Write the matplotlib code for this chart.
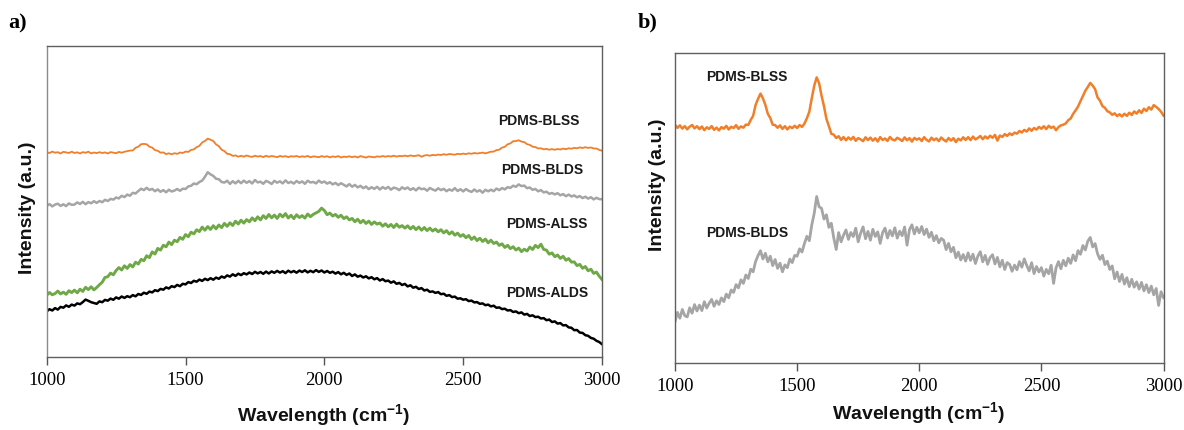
"""
Raman spectra of the PDMS composites, two panels:
a) all four samples stacked, b) the two BL samples at higher gain.
Intensities are in arbitrary units, read off the published figure.
"""

import matplotlib

matplotlib.use("Agg")   # headless backend
import matplotlib.pyplot as plt
import numpy as np

plt.rcParams["font.family"] = ["Liberation Sans", "DejaVu Sans"]
plt.rcParams["mathtext.default"] = "regular"

# wavenumber grid (cm^-1), one point every 10 cm^-1; one row below = 100 cm^-1
wavenumber = np.arange(1000, 3001, 10)

# ---- panel a -----------------------------------------------------------
blss_a = [
    205.0, 203.9, 205.4, 204.3, 204.8, 203.5, 205.2, 204.6, 204.0, 205.3,
    204.0, 204.7, 203.5, 204.9, 204.2, 205.3, 203.6, 204.5, 203.9, 204.8,
    204.0, 204.6, 203.5, 204.9, 204.4, 203.8, 205.1, 204.3, 205.2, 205.9,
    206.4, 206.6, 209.2, 210.3, 212.8, 213.1, 212.7, 210.3, 209.4, 206.9,
    206.2, 204.3, 204.6, 202.9, 203.7, 202.7, 203.8, 203.1, 204.5, 204.0,
    205.4, 205.1, 207.1, 207.6, 209.8, 211.2, 214.5, 216.0, 218.4, 217.3,
    216.0, 212.6, 210.8, 207.3, 205.9, 203.2, 202.8, 201.1, 201.6, 200.3,
    201.2, 200.3, 201.5, 200.6, 200.1, 201.3, 200.4, 201.0, 199.9, 201.2,
    200.2, 201.0, 200.5, 199.8, 201.1, 200.3, 200.9, 199.9, 200.8, 200.4,
    201.0, 200.0, 200.7, 200.2, 201.1, 199.7, 200.6, 200.3, 199.8, 200.9,
    200.1, 200.8, 199.6, 200.6, 200.0, 200.9, 199.5, 200.4, 200.0, 200.7,
    199.8, 200.6, 199.5, 200.9, 200.2, 199.4, 200.5, 200.1, 199.7, 200.6,
    200.2, 201.0, 200.3, 200.9, 200.5, 201.3, 200.4, 201.1, 200.8, 201.4,
    200.7, 201.6, 200.9, 201.2, 201.8, 200.2, 201.5, 201.9, 201.3, 202.1,
    201.7, 202.4, 202.0, 202.8, 202.2, 203.0, 202.6, 202.3, 203.2, 202.8,
    203.4, 202.9, 203.7, 203.2, 204.0, 203.5, 203.9, 204.4, 203.6, 204.5,
    205.3, 205.4, 206.9, 207.3, 209.4, 210.2, 212.7, 213.6, 215.8, 215.9,
    216.8, 215.4, 214.9, 212.8, 212.1, 210.3, 209.9, 208.6, 208.7, 207.7,
    208.1, 207.3, 207.9, 207.2, 208.0, 207.5, 208.4, 207.8, 208.7, 208.3,
    209.1, 208.7, 209.6, 209.0, 209.8, 209.1, 209.5, 208.5, 208.5, 207.1,
    206.3,
]
blds_a = [
    151.0, 152.9, 150.6, 152.4, 153.3, 151.1, 152.7, 150.9, 153.6, 152.2,
    152.4, 154.6, 153.0, 155.2, 152.8, 154.9, 153.7, 155.8, 154.1, 156.0,
    154.8, 157.2, 156.0, 158.1, 157.4, 159.5, 158.6, 161.2, 159.9, 162.4,
    161.3, 164.2, 163.5, 166.0, 168.3, 166.9, 169.2, 167.0, 168.1, 165.8,
    167.6, 165.2, 166.9, 164.7, 167.3, 165.5, 166.4, 168.0, 166.2, 168.3,
    168.0, 170.6, 171.2, 173.5, 172.8, 175.0, 176.4, 180.2, 184.8, 182.6,
    181.1, 178.2, 177.8, 175.0, 174.4, 176.3, 173.1, 175.8, 173.6, 176.2,
    173.8, 176.4, 174.2, 175.9, 173.5, 177.0, 174.6, 175.3, 173.2, 176.1,
    174.9, 173.0, 176.2, 174.3, 175.7, 173.6, 176.6, 174.0, 175.2, 173.4,
    176.0, 174.1, 175.6, 173.2, 176.3, 174.5, 175.1, 173.6, 176.4, 174.3,
    175.5, 173.4, 174.8, 172.6, 174.1, 171.9, 173.8, 172.2, 170.6, 172.9,
    170.3, 172.1, 169.6, 171.2, 168.8, 170.5, 167.9, 169.8, 168.1, 170.2,
    167.5, 169.9, 168.2, 170.1, 167.3, 169.4, 168.6, 166.9, 169.7, 168.0,
    169.5, 167.1, 168.8, 166.6, 169.3, 167.8, 168.4, 166.3, 169.0, 167.5,
    166.4, 168.7, 166.9, 168.2, 165.8, 167.6, 166.3, 168.9, 166.0, 167.8,
    165.6, 167.9, 166.2, 165.1, 167.5, 165.4, 166.8, 164.3, 167.2, 165.7,
    167.3, 165.8, 168.4, 166.9, 168.9, 167.6, 169.8, 169.1, 171.3, 170.2,
    172.6, 170.9, 171.4, 168.8, 169.5, 167.2, 168.0, 165.7, 166.9, 164.6,
    165.3, 163.2, 164.0, 162.6, 163.8, 161.7, 162.9, 160.8, 162.4, 160.5,
    161.6, 159.7, 160.9, 158.9, 160.3, 158.4, 159.8, 157.6, 159.2, 157.9,
    157.8,
]
alss_a = [
    61.8, 64.5, 62.2, 63.4, 65.9, 63.1, 64.8, 62.7, 66.3, 64.4,
    66.9, 64.2, 67.8, 65.6, 69.7, 67.4, 70.2, 67.1, 69.5, 72.3,
    74.8, 79.6, 80.3, 83.9, 82.2, 86.5, 89.4, 87.0, 91.2, 88.6,
    92.4, 90.1, 94.8, 93.0, 97.6, 96.3, 101.2, 99.4, 105.1, 103.0,
    108.6, 106.9, 111.8, 110.2, 114.9, 112.4, 116.8, 115.3, 119.6, 117.7,
    122.4, 120.3, 124.8, 123.1, 127.2, 125.4, 129.9, 126.8, 130.4, 127.6,
    131.3, 128.2, 132.0, 129.4, 133.6, 130.7, 134.2, 131.5, 135.8, 133.0,
    136.8, 133.9, 137.4, 135.2, 139.1, 136.3, 140.2, 137.1, 141.3, 138.6,
    142.5, 139.2, 141.9, 138.6, 142.8, 140.1, 143.4, 139.0, 141.7, 138.4,
    142.2, 139.5, 141.4, 138.9, 143.0, 140.3, 142.6, 144.1, 145.6, 148.9,
    146.5, 142.3, 143.9, 141.0, 142.6, 139.7, 141.8, 138.4, 140.2, 137.1,
    138.6, 135.3, 137.8, 134.2, 136.7, 133.5, 135.9, 132.6, 135.1, 132.9,
    134.0, 130.8, 133.2, 130.2, 132.6, 129.5, 132.9, 129.8, 131.4, 128.9,
    131.2, 128.1, 130.6, 127.4, 130.0, 126.8, 129.5, 126.4, 128.9, 126.0,
    128.0, 125.2, 127.3, 124.1, 126.4, 122.9, 125.2, 121.8, 123.9, 120.6,
    122.4, 119.3, 121.5, 117.6, 120.0, 116.4, 118.8, 115.5, 117.9, 114.2,
    116.8, 113.5, 114.9, 111.6, 113.2, 109.5, 111.7, 108.4, 110.3, 107.0,
    108.9, 105.4, 107.8, 106.0, 109.9, 107.5, 111.6, 109.4, 112.8, 107.6,
    106.9, 102.8, 104.1, 100.3, 102.0, 98.6, 100.7, 96.8, 98.4, 94.9,
    95.1, 91.4, 92.6, 88.7, 90.5, 86.2, 87.8, 83.6, 84.9, 80.8,
    77.5,
]
alds_a = [
    45.6, 47.8, 46.5, 48.9, 47.4, 50.1, 49.3, 51.6, 50.2, 52.4,
    51.4, 53.6, 52.8, 54.9, 57.4, 56.2, 54.8, 54.0, 53.2, 55.6,
    54.8, 57.1, 56.3, 58.4, 57.2, 59.6, 58.3, 60.5, 59.1, 60.8,
    59.8, 61.9, 60.7, 63.0, 62.1, 64.3, 63.2, 65.4, 64.6, 66.8,
    65.9, 68.1, 67.3, 69.6, 68.5, 70.8, 69.9, 72.1, 70.8, 73.2,
    72.6, 74.9, 74.0, 76.2, 75.3, 77.4, 76.1, 78.2, 76.9, 78.8,
    77.3, 79.4, 78.2, 80.5, 79.3, 81.6, 80.4, 82.7, 81.1, 83.3,
    81.9, 83.8, 82.6, 84.5, 83.0, 85.2, 83.6, 85.0, 83.2, 85.4,
    83.5, 85.6, 84.2, 86.1, 84.4, 85.8, 83.9, 86.3, 84.7, 86.0,
    84.3, 86.4, 85.0, 86.7, 84.6, 86.2, 84.8, 86.9, 85.1, 86.5,
    84.5, 86.0, 84.2, 85.3, 83.4, 84.9, 82.7, 84.2, 82.1, 83.5,
    81.0, 82.6, 80.3, 81.4, 79.5, 80.7, 78.6, 79.8, 77.7, 78.9,
    76.5, 77.9, 75.8, 76.4, 74.3, 75.6, 73.2, 74.1, 72.0, 73.1,
    70.6, 71.7, 69.3, 70.2, 68.0, 68.9, 66.5, 67.3, 65.1, 65.6,
    64.1, 64.9, 62.8, 63.3, 61.2, 61.9, 59.9, 60.4, 58.3, 58.7,
    57.3, 57.8, 55.9, 56.4, 54.6, 54.9, 53.2, 53.6, 51.8, 52.4,
    50.6, 51.3, 49.2, 49.6, 47.9, 48.3, 46.5, 46.9, 45.0, 45.6,
    43.8, 44.6, 42.4, 43.1, 41.0, 41.7, 39.9, 40.3, 38.5, 38.9,
    36.8, 37.4, 35.0, 35.6, 33.4, 33.9, 31.6, 31.9, 29.6, 29.2,
    26.8, 27.0, 24.4, 24.1, 21.8, 21.2, 19.1, 18.3, 16.2, 15.0,
    12.8,
]

# ---- panel b -----------------------------------------------------------
blss_b = [
    238.2, 235.1, 237.6, 234.4, 236.9, 233.7, 236.3, 238.0, 234.6, 236.8,
    233.9, 236.5, 232.8, 235.7, 234.1, 236.9, 233.2, 235.4, 232.6, 235.9,
    234.3, 237.1, 233.5, 236.2, 235.0, 237.8, 234.2, 236.6, 235.3, 238.4,
    238.0, 243.1, 247.2, 258.0, 264.1, 269.4, 264.6, 258.1, 249.2, 245.0,
    238.3, 237.9, 235.2, 237.6, 234.1, 236.8, 233.6, 236.4, 234.9, 237.2,
    235.0, 237.9, 236.1, 239.4, 244.8, 251.3, 264.7, 277.2, 285.6, 279.8,
    267.3, 256.8, 244.1, 236.9, 229.2, 228.3, 225.0, 226.8, 223.1, 225.9,
    222.7, 225.6, 223.3, 226.1, 222.2, 224.9, 223.6, 221.8, 225.7, 222.9,
    225.4, 222.3, 224.8, 221.5, 225.9, 223.0, 224.5, 222.1, 226.0, 223.4,
    222.6, 225.2, 223.8, 221.9, 225.6, 222.7, 224.9, 221.4, 225.1, 223.3,
    224.7, 222.0, 225.8, 223.1, 221.6, 225.3, 222.8, 224.6, 221.9, 225.5,
    223.2, 221.5, 225.0, 222.4, 224.8, 220.9, 224.3, 222.6, 225.7, 223.0,
    225.8, 222.9, 226.4, 223.6, 225.1, 227.0, 223.8, 226.6, 224.5, 227.3,
    225.2, 228.1, 222.4, 227.5, 226.0, 228.9, 227.1, 229.6, 228.0, 230.4,
    229.3, 232.0, 230.5, 233.1, 231.4, 234.6, 232.2, 235.0, 233.4, 236.1,
    234.2, 236.8, 233.9, 237.2, 235.1, 236.4, 232.8, 235.9, 237.6, 238.3,
    239.6, 242.8, 244.5, 249.1, 252.6, 256.4, 261.8, 266.9, 272.3, 276.0,
    280.1, 277.4, 273.8, 265.6, 262.3, 256.9, 255.2, 251.8, 250.6, 248.2,
    249.7, 246.9, 248.8, 246.5, 249.2, 247.1, 250.3, 248.0, 251.6, 249.4,
    252.7, 250.1, 254.3, 252.0, 255.8, 253.4, 257.9, 256.1, 254.0, 251.3,
    247.4,
]
blds_b = [
    41.2, 50.6, 44.8, 53.5, 47.3, 46.1, 55.2, 49.8, 58.4, 52.0,
    57.9, 52.4, 61.3, 55.0, 59.8, 63.6, 56.7, 62.2, 58.5, 65.1,
    61.4, 68.9, 65.2, 73.0, 70.6, 78.4, 75.1, 83.2, 79.6, 88.0,
    84.5, 93.8, 91.2, 101.6, 107.4, 112.3, 104.0, 109.7, 101.2, 106.8,
    97.4, 103.5, 94.6, 99.8, 91.2, 98.1, 95.3, 103.9, 100.4, 107.6,
    106.8, 114.2, 111.0, 119.5, 126.7, 122.3, 138.1, 149.6, 166.5, 156.2,
    154.7, 143.9, 148.2, 135.6, 139.8, 125.1, 113.5, 130.4, 121.2, 127.9,
    133.1, 123.6, 130.5, 126.4, 134.8, 121.2, 129.9, 136.1, 124.3, 131.6,
    122.8, 133.7, 126.5, 131.2, 119.6, 130.4, 134.9, 125.0, 132.6, 127.1,
    135.2, 124.9, 131.8, 127.3, 136.0, 117.8, 133.4, 138.2, 129.1, 135.7,
    130.2, 136.5, 128.4, 133.9, 125.6, 130.8, 122.2, 127.4, 120.1, 124.6,
    122.8, 113.4, 119.6, 111.2, 115.7, 105.3, 110.9, 103.0, 108.5, 101.9,
    110.1, 102.6, 108.8, 99.5, 106.9, 111.3, 101.2, 107.6, 98.7, 105.4,
    108.3, 99.1, 105.6, 96.2, 102.8, 93.5, 100.4, 98.6, 91.7, 97.9,
    93.2, 101.4, 95.8, 104.1, 97.6, 92.1, 100.3, 89.4, 96.5, 91.0,
    95.4, 86.9, 93.6, 89.2, 97.8, 79.6, 95.1, 101.4, 94.3, 102.7,
    97.2, 104.8, 99.6, 108.1, 102.3, 112.4, 108.7, 117.5, 113.0, 121.8,
    125.6, 116.1, 119.4, 109.2, 103.6, 107.8, 98.4, 101.9, 93.5, 97.1,
    84.2, 91.0, 81.5, 88.6, 78.9, 85.3, 76.4, 83.7, 75.8, 81.2,
    73.9, 80.6, 72.1, 78.3, 70.4, 76.9, 68.2, 74.5, 57.6, 71.3,
    65.4,
]

ORANGE, GRAY, GREEN, BLACK = "#F07F2A", "#A5A5A5", "#6FA847", "#000000"
LABEL_FONT = dict(fontsize=10, fontweight="bold", color="#1a1a1a")
AXLABEL_FONT = dict(fontsize=14, fontweight="bold", color="#111111")
W, H = 1184, 431


def style_axes(ax, ylim):
    ax.set_xlim(1000, 3000)
    ax.set_ylim(*ylim)
    ax.set_xticks([1000, 1500, 2000, 2500, 3000])
    ax.set_yticks([])
    ax.tick_params(axis="x", direction="out", length=6, width=1, color="#555555",
                   pad=4, labelsize=13.5, labelfontfamily="Liberation Serif")
    for spine in ax.spines.values():
        spine.set_color("#5f5f5f")
        spine.set_linewidth(1.0)


fig = plt.figure(figsize=(W / 100, H / 100), dpi=100)

# panel a
ax_a = fig.add_axes([46.7 / W, (H - 358) / H, 555.3 / W, 311 / H])
ax_a.plot(wavenumber, blss_a, color=ORANGE, lw=1.3)
ax_a.plot(wavenumber, blds_a, color=GRAY, lw=1.8)
ax_a.plot(wavenumber, alss_a, color=GREEN, lw=2.1)
ax_a.plot(wavenumber, alds_a, color=BLACK, lw=1.8)
style_axes(ax_a, (0, 311))
ax_a.spines["left"].set_color("#8a8a8a")
ax_a.text(2627, 237, "PDMS-BLSS", va="center", **LABEL_FONT)
ax_a.text(2635, 188, "PDMS-BLDS", va="center", **LABEL_FONT)
ax_a.text(2653, 134, "PDMS-ALSS", va="center", **LABEL_FONT)
ax_a.text(2653, 65, "PDMS-ALDS", va="center", **LABEL_FONT)

# panel b
ax_b = fig.add_axes([675 / W, (H - 364) / H, 488.5 / W, 310 / H])
ax_b.plot(wavenumber, blss_b, color=ORANGE, lw=1.8)
ax_b.plot(wavenumber, blds_b, color=GRAY, lw=2.0)
style_axes(ax_b, (0, 310))
ax_b.text(1126, 287, "PDMS-BLSS", va="center", **LABEL_FONT)
ax_b.text(1126, 131, "PDMS-BLDS", va="center", **LABEL_FONT)

# axis titles and panel letters, placed in figure pixels
fig.text(324 / W, 1 - 415 / H, "Wavelength (cm$^{-1}$)", ha="center", va="center",
         **AXLABEL_FONT)
fig.text(919 / W, 1 - 413 / H, "Wavelength (cm$^{-1}$)", ha="center", va="center",
         **AXLABEL_FONT)
fig.text(28 / W, 1 - 208 / H, "Intensity (a.u.)", rotation=90, ha="center",
         va="center", **AXLABEL_FONT)
fig.text(657 / W, 1 - 185 / H, "Intensity (a.u.)", rotation=90, ha="center",
         va="center", **AXLABEL_FONT)
fig.text(18 / W, 1 - 23 / H, "a)", ha="center", va="center", fontsize=16,
         fontweight="bold", family="Liberation Serif")
fig.text(648 / W, 1 - 22 / H, "b)", ha="center", va="center", fontsize=16,
         fontweight="bold", family="Liberation Serif")

fig.savefig("out.png", dpi=100, facecolor="white")
